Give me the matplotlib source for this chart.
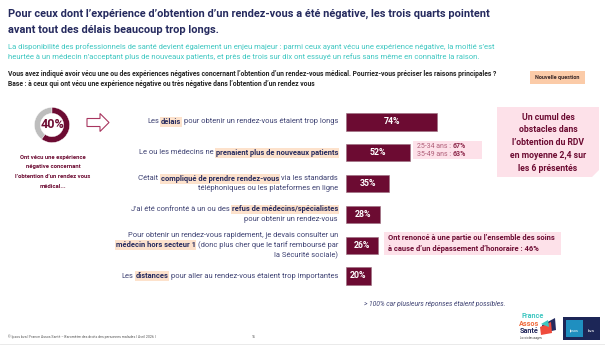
import matplotlib.pyplot as plt
from matplotlib import patches, transforms

plt.rcParams['font.family'] = ['Roboto', 'DejaVu Sans']

NAVY = '#252a5e'
TEXT = '#3d4172'
TEAL = '#3ec7c1'
MAROON = '#6c0b32'
PEACH = '#fde2cc'
PINK = '#fde1e9'
GREY = '#bdbdbd'

# --- data ---
donut_values = [40, 60]
values = [74, 52, 35, 28, 26, 20]
reasons = [
    [[('Les ', 0), ('délais', 1), (' pour obtenir un rendez-vous étaient trop longs', 0)]],
    [[('Le ou les médecins ne ', 0), ('prenaient plus de nouveaux patients', 1)]],
    [[("C'était ", 0), ('compliqué de prendre rendez-vous', 1), (' via les standards', 0)],
     [('téléphoniques ou les plateformes en ligne', 0)]],
    [[("J'ai été confronté à un ou des ", 0), ('refus de médecins/spécialistes', 1)],
     [('pour obtenir un rendez-vous', 0)]],
    [[('Pour obtenir un rendez-vous rapidement, je devais consulter un', 0)],
     [('médecin hors secteur 1', 1), (' (donc plus cher que le tarif remboursé par', 0)],
     [('la Sécurité sociale)', 0)]],
    [[('Les ', 0), ('distances', 1), (' pour aller au rendez-vous étaient trop importantes', 0)]],
]
age_labels = ['25-34 ans : ', '35-49 ans : ']
age_values = [67, 63]

fig = plt.figure(figsize=(6.05, 3.46), dpi=100)
bg = fig.add_axes([0, 0, 1, 1])
bg.set_xlim(0, 605)
bg.set_ylim(346, 0)
bg.axis('off')
renderer = fig.canvas.get_renderer()

# titles
bg.text(8, 14, "Pour ceux dont l’expérience d’obtention d’un rendez-vous a été négative, les trois quarts pointent",
        fontsize=7.95, fontweight='bold', color=NAVY, va='center')
bg.text(8, 30, "avant tout des délais beaucoup trop longs.",
        fontsize=7.95, fontweight='bold', color=NAVY, va='center')
bg.text(8, 47, "La disponibilité des professionnels de santé devient également un enjeu majeur : parmi ceux ayant vécu une "
        "expérience négative, la moitié s’est", fontsize=5.5, color=TEAL, va='center')
bg.text(8, 57, "heurtée à un médecin n’acceptant plus de nouveaux patients, et près de trois sur dix ont essuyé un refus "
        "sans même en connaître la raison.", fontsize=5.5, color=TEAL, va='center')
bg.text(8, 74, "Vous avez indiqué avoir vécu une ou des expériences négatives concernant l’obtention d’un rendez-vous médical. "
        "Pourriez-vous préciser les raisons principales ?", fontsize=4.85, fontweight='bold', color='#222222',
        va='center')
bg.text(8, 83.5, "Base : à ceux qui ont vécu une expérience négative ou très négative dans l’obtention d’un rendez vous",
        fontsize=4.85, fontweight='bold', color='#222222', va='center')
bg.add_patch(patches.Rectangle((530, 71), 55, 13, fc='#fbcba8', ec='none'))
bg.text(557.5, 77.5, "Nouvelle question", fontsize=4, fontweight='bold', color='#3a2a2a', ha='center', va='center')

# donut
dax = fig.add_axes([30 / 605, 1 - 147 / 346, 44 / 605, 44 / 346])
dax.pie(donut_values, colors=[GREY, MAROON], startangle=90, counterclock=True,
        wedgeprops=dict(width=0.34, edgecolor='white', linewidth=0.3))
dax.set_aspect('equal')
dax.text(0, 0, f"{donut_values[0]}%", ha='center', va='center', fontsize=9, fontweight='bold', color=MAROON)
for k, line in enumerate(["Ont vécu une expérience", "négative concernant",
                          "l’obtention d’un rendez vous", "médical..."]):
    bg.text(53, 157 + k * 9.7, line, ha='center', va='center', fontsize=4.2, fontweight='bold', color=MAROON)
bg.add_patch(patches.FancyArrow(87, 122.5, 22, 0, width=8, head_width=18, head_length=9,
                                length_includes_head=True, fc='white', ec='#a8365f', lw=0.8))

# bars
ax = fig.add_axes([346 / 605, 1 - 291.4 / 346, 123 / 605, 184.8 / 346])
rows = range(len(values))
ax.barh(rows, values, height=0.56, color=MAROON, edgecolor='#9a6d7e', linewidth=0.4)
ax.set_xlim(0, 100)
ax.set_ylim(len(values) - 0.5, -0.5)
ax.axis('off')
for i, v in zip(rows, values):
    ax.text(v / 2, i, f"{v}%", ha='center', va='center', color='white', fontsize=6.3, fontweight='bold')

# labels with highlighted runs, right aligned
label_size = 5.4
space = 2.2
line_gap = 9.8
blend = transforms.blended_transform_factory(bg.transData, ax.transData)
for i, lines in enumerate(reasons):
    n = len(lines)
    for j, runs in enumerate(lines):
        dy = (j - (n - 1) / 2) * line_gap
        trans = transforms.offset_copy(blend, fig=fig, y=-dy * 0.72, units='points')
        x = 338
        for text, hl in reversed(runs):
            if text.endswith(' '):
                x -= space
            kw = dict(bbox=dict(boxstyle='square,pad=0.12', fc=PEACH, ec='none')) if hl else {}
            t = bg.text(x, i, text.strip(), ha='right', va='center', transform=trans, fontsize=label_size,
                        fontweight='bold' if hl else 'normal', color=NAVY if hl else TEXT, **kw)
            bb = t.get_window_extent(renderer)
            x = bg.transData.inverted().transform((bb.x0, bb.y0))[0]
            if text.startswith(' '):
                x -= space

# age callout
bg.add_patch(patches.Rectangle((413, 141), 69, 18, fc=PINK, ec='none'))
for k, (lab, val) in enumerate(zip(age_labels, age_values)):
    t = bg.text(417, 146 + k * 8, lab.strip(), fontsize=5.0, color='#b0607a', va='center')
    bb = t.get_window_extent(renderer)
    x0 = bg.transData.inverted().transform((bb.x1, bb.y0))[0] + 1.8
    bg.text(x0, 146 + k * 8, f"{val}%", fontsize=5.0, fontweight='bold', color='#8e2a4c', va='center')

# right box
bg.add_patch(patches.Polygon([(497, 107), (599, 107), (599, 170), (592, 177), (497, 177)],
                             closed=True, fc=PINK, ec='none'))
for k, line in enumerate(["Un cumul des", "obstacles dans", "l’obtention du RDV",
                          "en moyenne 2,4 sur", "les 6 présentés"]):
    bg.text(548, 117 + k * 12.8, line, ha='center', va='center', fontsize=6.2, fontweight='bold', color=MAROON)

# bottom callout
bg.add_patch(patches.Rectangle((384, 232), 177, 23, fc=PINK, ec='none'))
bg.text(388, 238.5, "Ont renoncé à une partie ou l’ensemble des soins", fontsize=5.4, fontweight='bold',
        color=MAROON, va='center')
bg.text(388, 249, "à cause d’un dépassement d’honoraire : 46%", fontsize=5.4, fontweight='bold',
        color=MAROON, va='center')

bg.text(364, 304, "> 100% car plusieurs réponses étaient possibles.", fontsize=4.9, style='italic',
        color=TEXT, va='center')

# footer
bg.text(8, 337, "© Ipsos bva | France Assos Santé – Baromètre des droits des personnes malades | Avril 2026 |",
        fontsize=2.5, color='#555555', va='center')
bg.text(252, 337, "15", fontsize=2.5, color='#555555', va='center')
bg.plot([0, 605], [344, 344], color='#e6e6e6', lw=0.6)

# logos
bg.text(521, 316, "France", fontsize=5.2, fontweight='bold', color=TEAL, va='center')
bg.text(519, 323.5, "Assos", fontsize=5.2, fontweight='bold', color='#ef6a3c', va='center')
bg.text(520, 331, "Santé", fontsize=5.2, fontweight='bold', color=NAVY, va='center')
bg.text(520, 337.5, "La voix des usagers", fontsize=1.8, color='#333333', va='center')
bg.add_patch(patches.Polygon([(542, 325), (555, 318), (556, 330), (543, 333)], closed=True, fc=NAVY, ec='none'))
bg.add_patch(patches.Polygon([(540, 327), (551, 322), (552, 333), (541, 335)], closed=True, fc='#ef4b3c', ec='none'))
bg.add_patch(patches.Polygon([(541, 324), (548, 320), (549, 327)], closed=True, fc=TEAL, ec='none'))
bg.add_patch(patches.Rectangle((563, 317), 37, 23, fc='#1c2657', ec='none'))
bg.add_patch(patches.Rectangle((566, 320), 17, 17, fc='#1f8fc0', ec='none'))
bg.text(574.5, 331, "Ipsos", fontsize=2.6, color='white', ha='center', va='center')
bg.text(591.5, 331, "bva", fontsize=3.2, color='white', ha='center', va='center')

fig.savefig('out.png', dpi=100)
